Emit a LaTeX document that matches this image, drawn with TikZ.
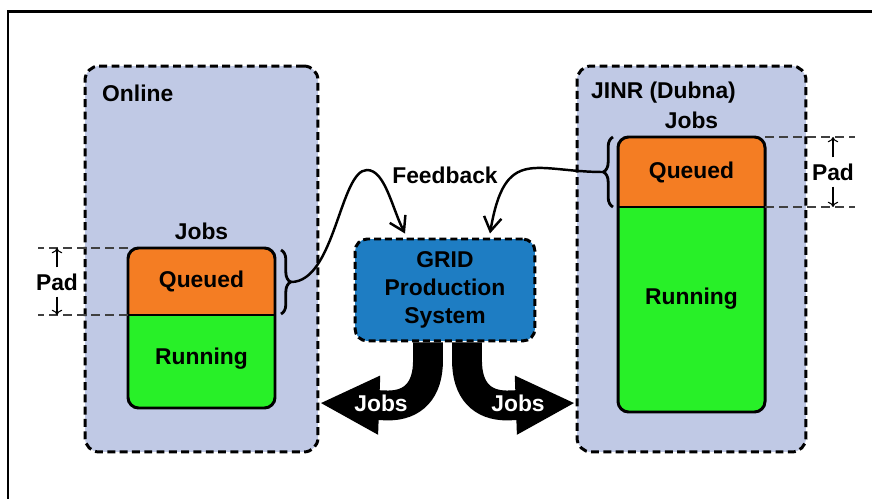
\documentclass[tikz,border=0pt]{standalone}
\usepackage{fontspec}
\setmainfont{Liberation Sans}
\usetikzlibrary{arrows.meta,positioning,decorations.pathreplacing,calc}
\definecolor{panelblue}{RGB}{192,201,229}
\definecolor{queuecolor}{RGB}{244,125,35}
\definecolor{runcolor}{RGB}{40,240,40}
\definecolor{gridblue}{RGB}{30,125,195}

\begin{document}
\begin{tikzpicture}[x=0.02cm, y=-0.02cm,
    every node/.style={font=\fontsize{13}{16}\selectfont\bfseries},
    panel/.style={draw, line width=1.7pt, dash pattern=on 4.5pt off 2.5pt, fill=panelblue, rounded corners=8pt},
    gridbox/.style={draw, line width=1.7pt, dash pattern=on 4pt off 2.2pt, fill=gridblue, rounded corners=7pt, align=center},
    padline/.style={black!75, line width=0.8pt, dash pattern=on 5pt off 3pt},
    padarrow/.style={-{To[length=3pt,width=6pt]}, line width=0.6pt},
    feedback/.style={line width=1.4pt, -{Straight Barb[length=8pt,width=10pt,line width=1.4pt]}},
    bigarrow/.style={line width=17pt, -{Triangle[length=34pt,width=31pt]}},
    brace/.style={decorate, decoration={brace, amplitude=5.5pt}, line width=1.6pt}]
  \useasboundingbox (0,0) rectangle (872,499);
  \draw[line width=1.7pt] (8,499) -- (8,12) -- (872,12);

  % the two sites
  \node[panel, minimum width=4.66cm, minimum height=7.72cm] (online) at (201.5,259) {};
  \node[panel, minimum width=4.58cm, minimum height=7.72cm] (jinr) at (691.5,259) {};
  \node[anchor=west] (onlinelbl) at (96,93) {Online};
  \node[anchor=west] (jinrlbl) at (585,93) {JINR (Dubna)};

  % job queues
  \foreach \xa/\ya/\yb/\yc/\yr/\s in {128/248/315/408/359/l,618/137/207/412/299/r} {
    \coordinate (\s nw) at (\xa,\ya);
    \coordinate (\s ne) at (\xa+147,\ya);
    \coordinate (\s mw) at (\xa,\yb);
    \coordinate (\s me) at (\xa+147,\yb);
    \begin{scope}
      \clip[rounded corners=6pt] (\xa,\ya) rectangle (\xa+147,\yc);
      \fill[runcolor] (\xa,\ya) rectangle (\xa+147,\yc);
      \fill[queuecolor] (\xa,\ya) rectangle (\xa+147,\yb);
    \end{scope}
    \draw[line width=1.7pt] (\s mw) -- (\s me);
    \draw[line width=1.7pt, rounded corners=6pt] (\xa,\ya) rectangle (\xa+147,\yc);
    \node (\s queued) at (\xa+73.5,{(\ya+\yb)/2}) {Queued};
    \node (\s running) at (\xa+73.5,\yr) {Running};
    \node[above=1pt of \s queued.north |- \s nw] (\s jobs) {Jobs};
  }

  % pad markers
  \draw[padline] (lnw) -- ++(-90,0);
  \draw[padline] (lmw) -- ++(-90,0);
  \node (lpad) at (57,282) {Pad};
  \draw[padarrow] (lpad.north) -- (lpad.north |- lnw);
  \draw[padarrow] (lpad.south) -- (lpad.south |- lmw);
  \draw[padline] (rne) -- ++(90,0);
  \draw[padline] (rme) -- ++(90,0);
  \node (rpad) at (833,172) {Pad};
  \draw[padarrow] (rpad.north) -- (rpad.north |- rne);
  \draw[padarrow] (rpad.south) -- (rpad.south |- rme);

  % grid system and feedback
  \node[gridbox, minimum width=3.6cm, minimum height=2.04cm] (grid) at (445,290) {GRID\\Production\\System};
  \node (fb) at (445,175) {Feedback};
  \draw[brace] (281,250) -- (281,314);
  \coordinate (ltip) at (291,282);
  \draw[brace] (613,207) -- (613,137);
  \coordinate (rtip) at (603,172);
  \draw[feedback] (ltip) .. controls (335,282) and (340,170) .. (367,170)
    .. controls (385,170) and (392,208) .. ($(grid.north)+(-40,-4)$);
  \draw[feedback] (rtip) .. controls (535,172) and (505,145) .. ($(grid.north)+(45,-4)$);

  % jobs sent out
  \node (ljobs) at (381,403) {};
  \node (rjobs) at (518,403) {};
  \draw[bigarrow] ($(grid.south)+(-17,0)$) -- ++(0,18) .. controls ++(0,30) and ++(25,0) .. ++(-40,45) -- (online.east |- ljobs);
  \draw[bigarrow] ($(grid.south)+(22,0)$) -- ++(0,18) .. controls ++(0,30) and ++(-25,0) .. ++(40,45) -- (jinr.west |- rjobs);
  \node[text=white] at (ljobs) {Jobs};
  \node[text=white] at (rjobs) {Jobs};
\end{tikzpicture}
\end{document}
